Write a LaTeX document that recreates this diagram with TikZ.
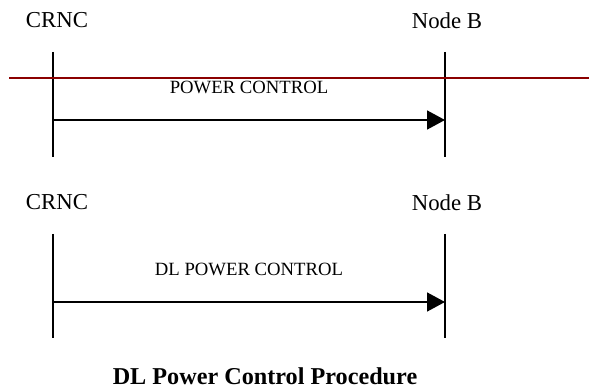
\documentclass[tikz,border=0pt]{standalone}
\usepackage{fontspec}
\setmainfont{Liberation Serif}
\usetikzlibrary{arrows.meta}
\definecolor{darkred}{RGB}{139,0,0}
\begin{document}
\begin{tikzpicture}[x=1pt,y=-1pt,
  entity/.style={inner sep=0pt,font=\fontsize{22.8}{24}\selectfont},
  msglabel/.style={inner sep=0pt,font=\fontsize{18.7}{20}\selectfont},
  lifeline/.style={line width=1.3pt},
  msg/.style={line width=1.6pt,-{Triangle[length=18pt,width=19pt]}},
  caption/.style={inner sep=0pt,font=\fontsize{24.2}{26}\selectfont\bfseries}]
\useasboundingbox (0,0) rectangle (589,390);
% top
\node[entity] (crnc1) at (57,20.5) {CRNC};
\node[entity] (nodeb1) at (447,20.5) {Node B};
\coordinate (l1t) at (53,52); \coordinate (l1b) at (53,157);
\coordinate (r1t) at (445,52); \coordinate (r1b) at (445,157);
\draw[lifeline] (l1t) -- (l1b);
\draw[lifeline] (r1t) -- (r1b);
\coordinate (a1s) at (53,120); \coordinate (a1e) at (445,120);
\draw[msg] (a1s) -- (a1e);
\node[msglabel] (m1) at (249,87.5) {POWER CONTROL};
\coordinate (redl) at (9,78); \coordinate (redr) at (589,78);
\draw[darkred,line width=1.8pt] (redl) -- (redr);
% bottom
\node[entity] (crnc2) at (57,202.5) {CRNC};
\node[entity] (nodeb2) at (447,202.5) {Node B};
\coordinate (l2t) at (53,234); \coordinate (l2b) at (53,338);
\coordinate (r2t) at (445,234); \coordinate (r2b) at (445,338);
\draw[lifeline] (l2t) -- (l2b);
\draw[lifeline] (r2t) -- (r2b);
\coordinate (a2s) at (53,302); \coordinate (a2e) at (445,302);
\draw[msg] (a2s) -- (a2e);
\node[msglabel] (m2) at (249,269.5) {DL POWER CONTROL};
\node[caption] (cap) at (265,376.5) {DL Power Control Procedure};
\end{tikzpicture}
\end{document}
